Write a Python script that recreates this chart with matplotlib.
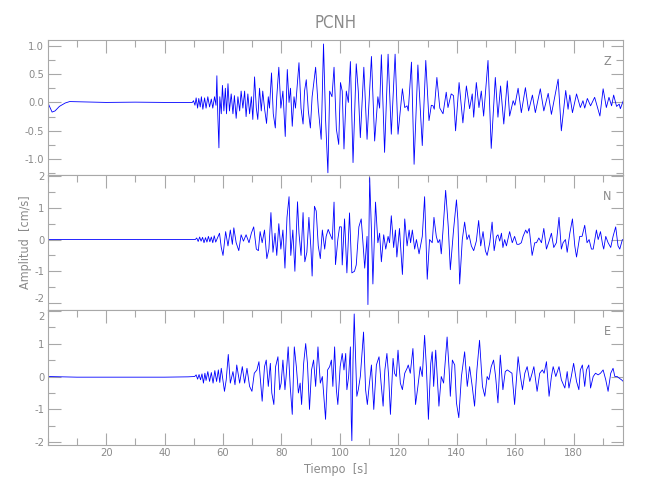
import matplotlib
matplotlib.use('Agg')
import matplotlib.pyplot as plt
from matplotlib.ticker import MultipleLocator, FixedLocator
from matplotlib.transforms import ScaledTranslation

plt.rcParams['font.family'] = ['DejaVu Sans']
plt.rcParams['font.stretch'] = 'condensed'

### -------------------------------------------------------------------------------------------------------------------
### Data (time [s], amplitude [cm/s])
### -------------------------------------------------------------------------------------------------------------------

stationName = 'PCNH'
componentNames = ['Z', 'N', 'E']
xTicks = [20, 40, 60, 80, 100, 120, 140, 160, 180]
zTicks = [-1.0, -0.5, 0.0, 0.5, 1.0]
nTicks = [-2, -1, 0, 1, 2]
eTicks = [-2, -1, 0, 1, 2]

zTime = [0, 0.7, 1.5, 2.5, 4, 6, 7.5, 12, 20, 30, 40, 48, 49.5,
         49.9, 50.4, 50.8, 51.3, 51.7, 52.2, 52.6, 53.1, 53.7, 54.2, 54.8, 55.4, 56.0, 56.5, 57.1, 57.6,
         57.9, 58.2, 58.6, 58.9, 59.4, 59.8, 60.3, 60.8, 61.2, 61.7, 62.2, 62.8, 63.4, 63.9, 64.5, 65.1,
         65.7, 66.2, 66.8, 67.4, 67.9, 68.5, 69.1, 69.7, 70.2, 70.8, 71.4, 71.9, 72.5, 73.1, 73.6, 74.2,
         74.9, 75.5, 75.9, 76.6, 77.2, 77.9, 78.4, 79.1, 79.8, 80.5, 81.3, 82.0, 82.6, 83.1, 83.7, 84.3,
         84.8, 85.4, 86.0, 86.7, 87.4, 87.9, 88.5, 89.2, 89.9, 90.5, 91.7, 92.6, 93.6, 94.4, 95.1, 95.9,
         96.5, 97.3, 98.0, 98.8, 99.6, 100.2, 100.8, 101.4, 102.2, 102.9, 103.6, 104.5, 105.6, 106.3,
         107.0, 108.2, 109.3, 110.8, 111.9, 113.0, 113.6, 114.2, 115.3, 116.5, 117.6, 118.9, 119.9,
         121.4, 122.2, 123.0, 123.4, 124.5, 125.4, 126.7, 128.2, 129.4, 130.5, 131.3, 131.9, 132.3,
         133.2, 134.2, 135.3, 136.4, 137.0, 138.1, 138.9, 139.6, 140.8, 142.1, 143.3, 144.4, 145.3,
         145.8, 146.7, 147.6, 148.4, 149.2, 150.7, 151.8, 153.2, 154.1, 155.0, 156.1, 157.3, 158.1,
         159.3, 159.9, 161.0, 162.1, 163.5, 164.6, 165.9, 166.9, 168.6, 169.8, 171.3, 172.4, 174.7,
         175.8, 177.3, 178.1, 178.7, 179.6, 181.0, 182.3, 183.2, 183.8, 184.7, 185.8, 187.2, 189.0,
         190.1, 191.2, 192.1, 193.0, 193.7, 194.7, 195.6, 196.0, 197.0]
zAmp = [0.0, -0.08, -0.17, -0.15, -0.07, -0.01, 0.015, 0.01, 0.0, 0.005, 0.0, 0.0, 0.0,
        0.03, -0.05, 0.08, -0.1, 0.07, -0.08, 0.1, -0.12, 0.08, -0.1, 0.1, -0.08, 0.06, -0.1, 0.1, -0.05,
        0.47, -0.2, -0.8, 0.1, -0.2, 0.3, -0.15, 0.25, -0.2, 0.33, -0.15, 0.15, -0.2, 0.12, -0.28, 0.1,
        -0.15, 0.2, -0.1, 0.2, -0.25, 0.15, -0.2, 0.1, -0.3, 0.45, -0.1, -0.3, 0.25, -0.15, 0.2, -0.1,
        -0.37, 0.1, -0.1, 0.52, -0.2, -0.45, 0.1, 0.62, -0.1, 0.2, -0.6, 0.58, 0.0, 0.25, -0.42, 0.1,
        -0.1, 0.3, 0.7, -0.1, -0.38, 0.2, 0.4, -0.15, -0.45, 0.1, 0.62, -0.1, -0.65, 1.03, -0.3, -1.24,
        0.2, 0.1, 0.62, -0.47, -0.74, 0.35, 0.2, -0.82, 0.2, 0.0, 0.72, -1.06, 0.68, 0.2,
        -0.62, 0.62, -0.65, 0.81, -0.68, 0.1, -0.1, 0.84, -0.88, 0.85, -0.56, 0.85, -0.56,
        0.24, -0.09, -0.06, -0.15, 0.71, -1.09, 0.66, -0.76, 0.74, -0.32, -0.05, -0.06, -0.12,
        0.44, -0.1, -0.2, 0.18, -0.09, 0.15, 0.12, -0.5, 0.35, -0.36, 0.29, -0.11, 0.15,
        -0.26, 0.35, -0.09, 0.2, -0.24, 0.74, -0.81, 0.44, -0.26, 0.29, -0.38, 0.38, -0.24,
        0.03, -0.05, 0.25, -0.18, 0.26, -0.15, 0.13, -0.18, 0.24, -0.15, 0.16, -0.21, 0.41,
        -0.5, 0.21, -0.12, 0.13, -0.18, 0.15, -0.09, 0.03, -0.1, 0.07, -0.06, 0.09, -0.24,
        0.24, -0.09, 0.09, -0.06, 0.13, -0.07, -0.03, -0.11, 0.03]

nTime = [0, 10, 20, 30, 40, 50.5,
         51.0, 51.5, 52.0, 52.5, 53.0, 53.5, 54.0, 54.5, 55.0, 55.5, 56.0, 56.5, 57.0, 57.5,
         58.8, 59.4, 60.0, 60.9, 61.7, 62.5, 63.2, 63.7, 64.5, 65.4, 66.2, 67.0, 67.9, 68.9, 69.7,
         70.5, 71.4, 72.1, 72.7, 73.4, 74.2, 75.0, 75.7, 76.4, 77.1, 77.8, 78.4, 79.1, 79.8, 80.5,
         81.2, 81.9, 82.6, 83.2, 83.9, 84.6, 85.5, 86.0, 86.7, 87.4, 88.0, 88.7, 89.4, 90.1, 90.5,
         91.3, 91.9, 92.6, 93.3, 94.0, 94.8, 95.3, 96.0,
         96.5, 97.4, 98.0, 98.5, 99.3, 99.9, 100.5, 100.8, 101.6, 102.4, 103.3, 104.1, 105.0, 105.6,
         106.5, 107.3, 107.9, 108.5, 109.3, 109.6, 110.2, 110.8, 111.3, 112.2, 113.0, 113.6, 114.2,
         115.0, 115.7, 116.5, 117.0, 117.6, 118.4, 119.0, 119.5, 120.4, 121.4, 122.2, 123.0, 123.7,
         124.2, 124.8, 125.6, 126.2, 127.1, 128.2, 129.0, 129.9, 130.7, 131.6, 132.2, 133.0, 133.6,
         134.2, 134.7, 135.3, 136.2, 137.1, 137.8, 138.9, 139.9, 140.4, 141.0, 141.9, 142.7, 143.5,
         144.2, 145.0, 145.8, 146.7, 147.5, 148.2, 149.0, 149.8, 150.4, 151.3, 152.1, 152.8, 153.6,
         154.1, 154.7, 155.3, 155.8, 156.4, 157.0, 158.1, 159.0, 159.8, 160.6, 161.3, 162.1, 162.7,
         163.6, 164.1, 164.8, 165.8, 166.7, 167.3, 168.1, 169.0, 169.8, 170.7, 171.6, 172.4, 173.2,
         174.1, 175.0, 175.8, 176.4, 177.2, 177.8, 178.7, 179.6, 180.4, 181.0, 182.1, 182.9, 183.8,
         184.6, 185.3, 186.1, 186.7, 187.8, 188.4, 189.2, 189.9, 190.3, 191.0, 191.8, 192.7, 193.5,
         194.4, 195.2, 195.8, 196.7]
nAmp = [0.0, 0.0, 0.0, 0.0, 0.0, 0.0,
        0.05, -0.06, 0.08, -0.05, 0.07, -0.1, 0.06, -0.08, 0.1, -0.07, 0.08, -0.1, 0.12, -0.08,
        0.2, -0.25, -0.5, 0.25, -0.2, 0.3, -0.15, 0.37, -0.1, -0.35, 0.15, -0.05, 0.15, -0.1, 0.2,
        0.4, -0.3, -0.35, 0.25, -0.1, 0.3, -0.6, -0.3, 0.85, -0.4, 0.2, -0.5, 0.5, -0.3, 0.3,
        -0.9, 0.7, 1.35, -0.5, 0.3, -1.0, 1.19, 0.2, -0.5, 0.85, -0.7, -0.4, 0.7, -0.3, -1.15,
        1.05, 0.9, -0.2, -0.6, 0.3, -0.3, 0.1, 0.32,
        0.2, 0.0, 1.18, -0.79, 0.0, 0.4, 0.4, -0.8, 0.65, -1.05, 0.84, -1.05, -1.0, -0.8,
        0.4, 0.65, -0.1, -0.9, 0.1, -2.05, 1.95, 0.3, -1.4, 1.18, -0.1, 0.2, -0.7,
        0.15, -0.3, 0.1, -0.1, 0.75, -0.25, 0.3, -0.55, 0.35, -1.1, 0.65, -0.2, 0.3,
        -0.1, 0.3, -0.3, 0.0, -0.45, 0.1, 1.35, -1.25, 0.0, -0.1, 0.7, 0.1, -0.1,
        0.0, -0.45, 0.3, 1.55, 0.4, -0.95, 0.3, 1.25, 0.6, -1.4, 0.0, 0.55, 0.0,
        0.15, -0.2, -0.35, -0.05, 0.6, -0.2, 0.25, -0.35, -0.5, -0.1, 0.55, -0.35, 0.1,
        0.15, -0.05, 0.2, -0.25, 0.0, -0.2, 0.25, -0.1, 0.1, -0.15, -0.15, -0.1, 0.1,
        0.3, 0.2, 0.35, -0.5, -0.1, -0.1, 0.05, -0.1, 0.35, -0.3, -0.05, 0.2, -0.25,
        -0.1, 0.7, -0.3, -0.1, 0.0, -0.4, 0.2, 0.65, -0.2, -0.55, 0.1, 0.1, 0.45,
        -0.1, 0.0, -0.3, -0.3, 0.3, 0.0, 0.25, -0.15, -0.3, 0.1, -0.1, -0.25, 0.1,
        0.4, -0.2, -0.3, 0.0]

eTime = [0, 5, 10, 20, 30, 40, 48, 50.3,
         50.8, 51.3, 51.8, 52.3, 52.8, 53.3, 53.8, 54.2, 54.8, 55.4, 56.0, 56.6, 57.2, 57.8, 58.4, 58.9,
         59.4, 60.5, 61.1, 61.8, 62.5, 63.4, 64.1, 64.7, 65.7, 66.6, 67.4, 68.2, 69.1, 69.9, 70.7,
         71.6, 72.3, 72.9, 73.4, 74.2, 74.8, 75.5, 76.2, 76.7, 77.4, 78.0, 78.8, 79.4, 79.9, 80.5,
         81.2, 81.6, 82.3, 83.0, 83.7, 84.4, 85.1, 85.8, 86.4, 86.9, 87.6, 88.3, 88.9, 89.6, 90.3,
         91.0, 91.7, 92.5, 93.3, 94.0, 95.1, 95.8,
         96.5, 97.1, 97.6, 98.2, 98.8, 99.3, 100.1, 100.8, 101.4, 102.0, 102.4, 103.0, 103.6, 103.9,
         104.1, 104.5, 104.9, 105.4, 105.8, 106.3, 107.0, 107.4, 108.1, 108.8, 109.4, 110.0, 110.8,
         111.6, 112.5, 113.4, 114.1, 114.8, 115.4, 116.1, 116.7, 117.3, 118.2, 118.7, 119.3, 119.9,
         120.7, 121.4, 122.2, 123.0, 123.4, 124.1, 125.0, 125.9, 126.7, 127.5, 128.2, 129.0, 129.6,
         130.3, 131.1, 131.6, 132.1, 132.8, 133.2, 133.9, 134.7, 135.5, 136.7, 137.4, 137.8, 138.5,
         139.3, 139.9, 140.7, 141.6, 142.7, 143.6, 144.4, 145.3, 146.1, 146.9, 147.8, 148.8, 149.6,
         150.4, 151.0, 151.8, 152.6, 153.3, 154.1, 154.9, 155.8, 156.6, 157.3, 158.1, 158.9, 159.8,
         161.0, 161.8, 162.5, 163.3, 164.1, 165.0, 165.8, 166.4, 167.5, 168.4, 169.3, 169.9, 170.7,
         171.6, 172.4, 173.0, 173.9, 175.0, 175.8, 177.0, 177.8, 178.4, 179.2, 180.0, 181.0, 181.8,
         182.3, 183.0, 183.8, 184.4, 185.2, 185.8, 186.7, 187.5, 188.4, 189.2, 190.1, 191.0, 191.8,
         192.7, 193.5, 194.1, 194.9, 195.6, 196.4, 197.0]
eAmp = [0.0, -0.01, -0.02, -0.02, -0.02, -0.02, -0.01, 0.0,
        0.05, -0.08, 0.06, -0.1, 0.08, -0.2, 0.1, -0.12, 0.15, -0.15, 0.12, -0.2, 0.18, -0.15, 0.2, -0.18,
        0.25, -0.45, -0.1, 0.67, -0.2, 0.15, -0.25, 0.35, -0.2, 0.3, -0.2, 0.25, -0.3, -0.45, 0.1,
        0.2, 0.45, -0.2, -0.75, 0.3, 0.5, -0.3, 0.4, -0.5, -0.85, 0.3, 0.6, -0.4, -0.2, 0.5,
        -0.4, 0.0, 0.9, -0.3, -1.15, 0.9, 0.3, -0.5, -0.2, -0.85, 0.4, 1.0, 0.4, -1.0, 0.2,
        0.5, -0.3, 0.9, -0.2, 0.0, -1.3, 0.2,
        0.3, 0.5, -0.3, 0.9, -0.4, -0.85, 0.3, 0.7, 0.2, 0.7, -0.4, 0.0, 0.9, -1.35,
        -1.95, 0.5, 1.9, 0.5, -0.6, -0.4, 0.0, 0.5, 1.35, -0.4, -0.85, -0.3, 0.35,
        -1.0, 0.35, 0.6, -0.2, -0.9, 0.2, 0.7, 0.0, -1.15, 0.55, 0.1, 0.0, 0.8,
        -0.2, -0.4, 0.1, 0.25, 0.35, 0.1, 0.85, -0.85, -0.3, 0.3, 0.0, 1.25, 0.3,
        -1.3, 0.4, 0.75, -0.3, 0.8, 0.2, -0.9, 0.0, -0.2, 1.2, 0.2, -0.6, 0.5,
        0.35, -0.8, -1.25, 0.0, 0.75, -0.3, 0.3, -0.3, -0.9, 0.2, 1.1, -0.3, -0.6,
        0.0, -0.1, 0.3, 0.5, 0.0, -0.8, 0.65, -0.4, 0.15, 0.2, 0.15, 0.1, -0.85,
        0.6, 0.0, -0.4, 0.1, 0.3, -0.15, 0.1, 0.3, -0.45, 0.1, 0.2, 0.1, 0.45,
        -0.6, 0.0, 0.3, 0.0, 0.3, -0.1, -0.35, 0.15, -0.35, 0.0, 0.4, -0.15, -0.4,
        0.2, 0.35, -0.3, 0.2, 0.35, -0.35, 0.0, 0.1, 0.05, 0.1, 0.2, -0.1, -0.45,
        0.1, 0.25, 0.0, 0.0, -0.05, -0.1, -0.15]

### -------------------------------------------------------------------------------------------------------------------
### Style
### -------------------------------------------------------------------------------------------------------------------

traceColor = (0, 0, 1)
frameColor = '#a8a8a8'
textColor = '#8a8a8a'

panels = [
    # (time, amp, name, ylim, ticks, minor, fmt, axes rect)
    (zTime, zAmp, componentNames[0], (-1.27, 1.10), zTicks, 0.25, '%.1f', [0.0734, 0.651, 0.8855, 0.269]),
    (nTime, nAmp, componentNames[1], (-2.22, 2.05), nTicks, 0.5, '%d', [0.0734, 0.380, 0.8855, 0.271]),
    (eTime, eAmp, componentNames[2], (-2.08, 2.02), eTicks, 0.5, '%d', [0.0734, 0.110, 0.8855, 0.270]),
]


def FormatLabel(value, fmt):
    text = fmt % value
    return text.replace('\u2212', '-')


def ShiftTickLabel(fig, tick, dy):
    # nudge a crowded tick label a few pixels up/down
    label = tick.label1
    label.set_transform(label.get_transform() + ScaledTranslation(0, dy / 72.0, fig.dpi_scale_trans))


### -------------------------------------------------------------------------------------------------------------------
### Main
### -------------------------------------------------------------------------------------------------------------------

fig = plt.figure(figsize=(6.5, 5.0), dpi=100)
fig.patch.set_facecolor('white')

for idx, (time, amp, name, ylim, yTicks, minor, fmt, rect) in enumerate(panels):
    ax = fig.add_axes(rect)
    ax.plot(time, amp, color=traceColor, linewidth=0.6)
    ax.set_xlim(0, 197)
    ax.set_ylim(*ylim)

    isBottom = idx == len(panels) - 1
    ax.xaxis.set_major_locator(FixedLocator(xTicks))
    ax.xaxis.set_minor_locator(MultipleLocator(10))
    ax.yaxis.set_major_locator(FixedLocator(yTicks))
    ax.yaxis.set_minor_locator(MultipleLocator(minor))

    ax.tick_params(axis='both', which='both', direction='in', colors=frameColor, labelcolor=textColor,
                   labelsize=8, width=0.8, pad=2.5)
    ax.tick_params(axis='both', which='major', length=9)
    ax.tick_params(axis='both', which='minor', length=5)
    ax.tick_params(axis='y', which='both', left=True, right=True)
    ax.tick_params(axis='x', which='both', top=True, bottom=isBottom, labelbottom=isBottom)
    ax.yaxis.set_major_formatter(plt.FuncFormatter(lambda v, p, f=fmt: FormatLabel(v, f)))

    # panels touch each other: keep the edge labels apart
    yTickObjs = ax.yaxis.get_major_ticks(len(yTicks))
    if idx == 1:
        ShiftTickLabel(fig, yTickObjs[0], 3.5)
    if idx == 2:
        ShiftTickLabel(fig, yTickObjs[-1], -3.5)

    for spine in ax.spines.values():
        spine.set_color(frameColor)
        spine.set_linewidth(0.8)

    ax.text(0.972, 0.84, name, transform=ax.transAxes, color=textColor, fontsize=9, ha='center', va='center')

    if idx == 0:
        ax.set_title(stationName, color=textColor, fontsize=12, pad=9)
    if idx == 1:
        ax.set_ylabel('Amplitud  [cm/s]', color=textColor, fontsize=9)
        ax.yaxis.set_label_coords(-0.027, 0.5)
    if isBottom:
        ax.set_xlabel('Tiempo  [s]', color=textColor, fontsize=9, labelpad=3)

fig.savefig('out.png', dpi=100, facecolor='white')
